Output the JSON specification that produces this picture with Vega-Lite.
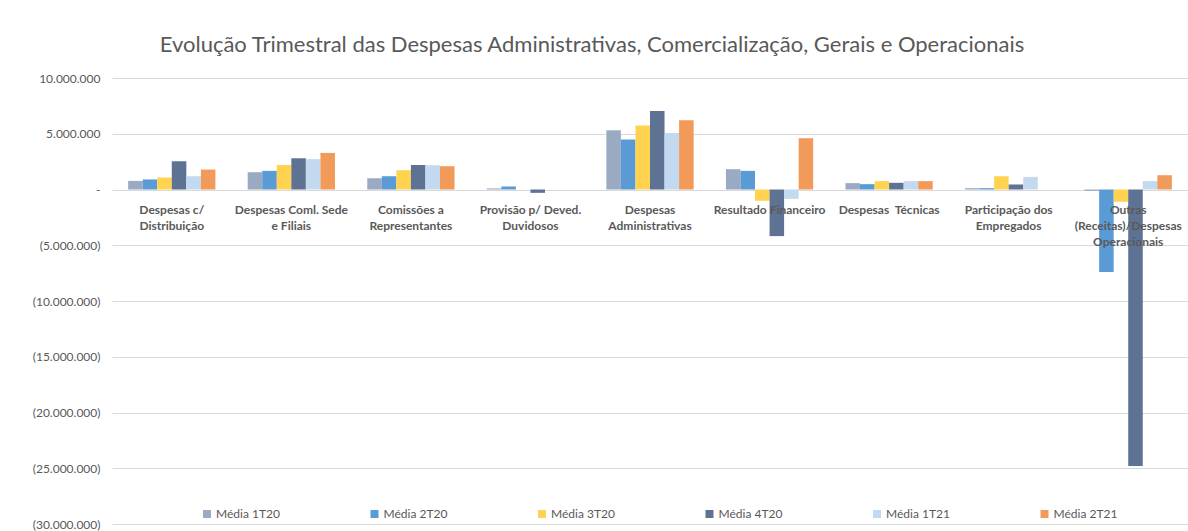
{
  "$schema": "https://vega.github.io/schema/vega-lite/v6.json",
  "width": 1076,
  "height": 446,
  "autosize": "none",
  "padding": {"left": 112, "top": 78, "right": 0, "bottom": 7},
  "background": "white",
  "title": {
    "text": "Evolução Trimestral das Despesas Administrativas, Comercialização, Gerais e Operacionais",
    "font": "Lato",
    "fontSize": 22,
    "fontWeight": "normal",
    "color": "#595959",
    "anchor": "middle",
    "dx": -58,
    "offset": 15
  },
  "config": {
    "view": {"stroke": null},
    "font": "Lato"
  },
  "data": {
    "values": [
      {"cat": "Despesas c/|Distribuição", "s": "Média 1T20", "v": 770000},
      {"cat": "Despesas c/|Distribuição", "s": "Média 2T20", "v": 900000},
      {"cat": "Despesas c/|Distribuição", "s": "Média 3T20", "v": 1080000},
      {"cat": "Despesas c/|Distribuição", "s": "Média 4T20", "v": 2540000},
      {"cat": "Despesas c/|Distribuição", "s": "Média 1T21", "v": 1190000},
      {"cat": "Despesas c/|Distribuição", "s": "Média 2T21", "v": 1790000},
      {"cat": "Despesas Coml. Sede|e Filiais", "s": "Média 1T20", "v": 1550000},
      {"cat": "Despesas Coml. Sede|e Filiais", "s": "Média 2T20", "v": 1670000},
      {"cat": "Despesas Coml. Sede|e Filiais", "s": "Média 3T20", "v": 2200000},
      {"cat": "Despesas Coml. Sede|e Filiais", "s": "Média 4T20", "v": 2800000},
      {"cat": "Despesas Coml. Sede|e Filiais", "s": "Média 1T21", "v": 2720000},
      {"cat": "Despesas Coml. Sede|e Filiais", "s": "Média 2T21", "v": 3280000},
      {"cat": "Comissões a|Representantes", "s": "Média 1T20", "v": 1010000},
      {"cat": "Comissões a|Representantes", "s": "Média 2T20", "v": 1190000},
      {"cat": "Comissões a|Representantes", "s": "Média 3T20", "v": 1730000},
      {"cat": "Comissões a|Representantes", "s": "Média 4T20", "v": 2200000},
      {"cat": "Comissões a|Representantes", "s": "Média 1T21", "v": 2180000},
      {"cat": "Comissões a|Representantes", "s": "Média 2T21", "v": 2090000},
      {"cat": "Provisão p/ Deved.|Duvidosos", "s": "Média 1T20", "v": 100000},
      {"cat": "Provisão p/ Deved.|Duvidosos", "s": "Média 2T20", "v": 270000},
      {"cat": "Provisão p/ Deved.|Duvidosos", "s": "Média 3T20", "v": 0},
      {"cat": "Provisão p/ Deved.|Duvidosos", "s": "Média 4T20", "v": -300000},
      {"cat": "Provisão p/ Deved.|Duvidosos", "s": "Média 1T21", "v": 0},
      {"cat": "Provisão p/ Deved.|Duvidosos", "s": "Média 2T21", "v": 0},
      {"cat": "Despesas|Administrativas", "s": "Média 1T20", "v": 5310000},
      {"cat": "Despesas|Administrativas", "s": "Média 2T20", "v": 4480000},
      {"cat": "Despesas|Administrativas", "s": "Média 3T20", "v": 5730000},
      {"cat": "Despesas|Administrativas", "s": "Média 4T20", "v": 7040000},
      {"cat": "Despesas|Administrativas", "s": "Média 1T21", "v": 5070000},
      {"cat": "Despesas|Administrativas", "s": "Média 2T21", "v": 6210000},
      {"cat": "Resultado Financeiro", "s": "Média 1T20", "v": 1820000},
      {"cat": "Resultado Financeiro", "s": "Média 2T20", "v": 1670000},
      {"cat": "Resultado Financeiro", "s": "Média 3T20", "v": -1010000},
      {"cat": "Resultado Financeiro", "s": "Média 4T20", "v": -4180000},
      {"cat": "Resultado Financeiro", "s": "Média 1T21", "v": -840000},
      {"cat": "Resultado Financeiro", "s": "Média 2T21", "v": 4600000},
      {"cat": "Despesas\u00a0 Técnicas", "s": "Média 1T20", "v": 570000},
      {"cat": "Despesas\u00a0 Técnicas", "s": "Média 2T20", "v": 480000},
      {"cat": "Despesas\u00a0 Técnicas", "s": "Média 3T20", "v": 750000},
      {"cat": "Despesas\u00a0 Técnicas", "s": "Média 4T20", "v": 600000},
      {"cat": "Despesas\u00a0 Técnicas", "s": "Média 1T21", "v": 750000},
      {"cat": "Despesas\u00a0 Técnicas", "s": "Média 2T21", "v": 750000},
      {"cat": "Participação dos|Empregados", "s": "Média 1T20", "v": 120000},
      {"cat": "Participação dos|Empregados", "s": "Média 2T20", "v": 120000},
      {"cat": "Participação dos|Empregados", "s": "Média 3T20", "v": 1190000},
      {"cat": "Participação dos|Empregados", "s": "Média 4T20", "v": 450000},
      {"cat": "Participação dos|Empregados", "s": "Média 1T21", "v": 1130000},
      {"cat": "Participação dos|Empregados", "s": "Média 2T21", "v": 0},
      {"cat": "Outras|(Receitas)/Despesas|Operacionais", "s": "Média 1T20", "v": -120000},
      {"cat": "Outras|(Receitas)/Despesas|Operacionais", "s": "Média 2T20", "v": -7410000},
      {"cat": "Outras|(Receitas)/Despesas|Operacionais", "s": "Média 3T20", "v": -1100000},
      {"cat": "Outras|(Receitas)/Despesas|Operacionais", "s": "Média 4T20", "v": -24800000},
      {"cat": "Outras|(Receitas)/Despesas|Operacionais", "s": "Média 1T21", "v": 750000},
      {"cat": "Outras|(Receitas)/Despesas|Operacionais", "s": "Média 2T21", "v": 1280000}
    ]
  },
  "mark": {"type": "bar"},
  "encoding": {
    "x": {
      "field": "cat",
      "type": "nominal",
      "sort": null,
      "scale": {"paddingInner": 0.27, "paddingOuter": 0.135},
      "axis": {
        "title": null,
        "orient": "bottom",
        "offset": -334,
        "labelAngle": 0,
        "labelExpr": "split(datum.label, '|')",
        "labelFont": "Lato",
        "labelFontSize": 12,
        "labelFontWeight": "bold",
        "labelColor": "#595959",
        "labelLineHeight": 16,
        "labelPadding": 14,
        "labelLimit": 200,
        "ticks": false,
        "domain": false,
        "grid": false,
        "zindex": 2
      }
    },
    "xOffset": {
      "field": "s",
      "type": "nominal",
      "sort": ["Média 1T20", "Média 2T20", "Média 3T20", "Média 4T20", "Média 1T21", "Média 2T21"]
    },
    "y": {
      "field": "v",
      "type": "quantitative",
      "scale": {"domain": [-30000000, 10000000], "nice": false, "zero": true},
      "axis": {
        "title": null,
        "values": [-30000000, -25000000, -20000000, -15000000, -10000000, -5000000, 0, 5000000, 10000000],
        "labelExpr": "datum.value == 0 ? '-' : (datum.value < 0 ? '(' + replace(format(-datum.value, ',d'), regexp(',', 'g'), '.') + ')' : replace(format(datum.value, ',d'), regexp(',', 'g'), '.'))",
        "labelFont": "Lato",
        "labelFontSize": 12,
        "labelColor": "#595959",
        "labelPadding": 12,
        "ticks": false,
        "domain": false,
        "grid": true,
        "gridColor": "#d9d9d9",
        "gridWidth": 1
      }
    },
    "color": {
      "field": "s",
      "type": "nominal",
      "sort": ["Média 1T20", "Média 2T20", "Média 3T20", "Média 4T20", "Média 1T21", "Média 2T21"],
      "scale": {
        "domain": ["Média 1T20", "Média 2T20", "Média 3T20", "Média 4T20", "Média 1T21", "Média 2T21"],
        "range": ["#9aaac3", "#5b9bd5", "#ffd34f", "#5e7393", "#c2d9ef", "#f19a5a"]
      },
      "legend": {
        "title": null,
        "orient": "none",
        "legendX": 89,
        "legendY": 430,
        "direction": "horizontal",
        "columns": 6,
        "gridAlign": "all",
        "columnPadding": 88.5,
        "symbolType": "square",
        "symbolSize": 64,
        "symbolStrokeWidth": 0,
        "labelFont": "Lato",
        "labelFontSize": 12,
        "labelColor": "#595959",
        "labelOffset": 3
      }
    }
  }
}
